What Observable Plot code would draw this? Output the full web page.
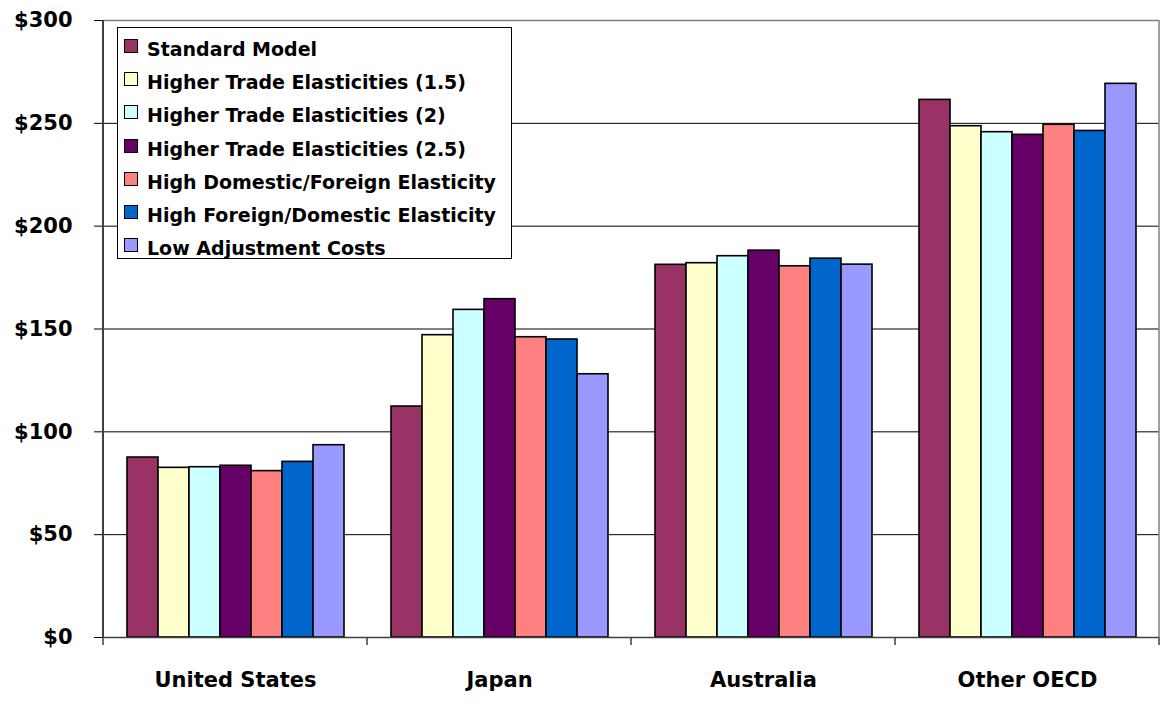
<!DOCTYPE html>
<html>
<head>
<meta charset="utf-8">
<script src="https://cdn.jsdelivr.net/npm/d3@7"></script>
<script src="https://cdn.jsdelivr.net/npm/@observablehq/plot@0.6"></script>
<style>
  html, body { margin: 0; padding: 0; background: #fff; }
  #wrap { position: relative; width: 1167px; height: 709px; }
  #wrap svg text { font-family: "DejaVu Sans", sans-serif; font-weight: bold; font-size: 21px; fill: #000; }
  #legend {
    position: absolute; left: 117px; top: 27px; width: 393px; height: 230px;
    border: 1px solid #000; background: #fff;
    font-family: "DejaVu Sans", sans-serif; font-weight: bold; font-size: 19px; color: #000;
  }
  .lg-sw { position: absolute; left: 6px; width: 12px; height: 12px; border: 1px solid #000; }
  .lg-tx { position: absolute; left: 29px; white-space: nowrap; line-height: 19px; }
</style>
</head>
<body>
<div id="wrap"></div>
<script>
const countries = ["United States", "Japan", "Australia", "Other OECD"];
const series = [
  "Standard Model",
  "Higher Trade Elasticities (1.5)",
  "Higher Trade Elasticities (2)",
  "Higher Trade Elasticities (2.5)",
  "High Domestic/Foreign Elasticity",
  "High Foreign/Domestic Elasticity",
  "Low Adjustment Costs"
];
const colors = ["#993366", "#FFFFCC", "#CCFFFF", "#660066", "#FF8080", "#0066CC", "#9999FF"];
const usValues        = [87.5, 82.5, 82.8, 83.5, 80.9, 85.4, 93.5];
const japanValues     = [112.3, 147.0, 159.3, 164.5, 146.0, 144.9, 128.0];
const australiaValues = [181.2, 182.0, 185.4, 188.1, 180.5, 184.2, 181.3];
const oecdValues      = [261.4, 248.6, 245.7, 244.4, 249.3, 246.3, 269.2];
const yTicks = [0, 50, 100, 150, 200, 250, 300];

const valuesByCountry = [usValues, japanValues, australiaValues, oecdValues];
const data = [];
countries.forEach((c, i) => series.forEach((s, j) => data.push({country: c, series: s, value: valuesByCountry[i][j]})));

const chart = Plot.plot({
  width: 1167,
  height: 709,
  marginLeft: 102,
  marginRight: 7,
  marginTop: 20,
  marginBottom: 72,
  style: {background: "white", overflow: "visible"},
  fx: {domain: countries, padding: 0, label: null, tickSize: 0, tickPadding: 35},
  x: {domain: series, paddingInner: 0, paddingOuter: 0.75, axis: null},
  y: {domain: [0, 300], ticks: yTicks, tickFormat: d => "$" + d, tickSize: 9, tickPadding: 22, label: null},
  color: {domain: series, range: colors},
  marks: [
    Plot.gridY(yTicks.filter(d => d > 0 && d < 300), {stroke: "black", strokeOpacity: 1, strokeWidth: 1}),
    Plot.gridY([300], {stroke: "#808080", strokeOpacity: 1, strokeWidth: 1.5}),
    Plot.barY(data, {fx: "country", x: "series", y: "value", fill: "series", stroke: "black", strokeWidth: 1.6}),
    Plot.ruleY([0], {stroke: "#404040", strokeWidth: 1.5})
  ]
});

document.getElementById("wrap").appendChild(chart);

// axis line, right frame and category boundary ticks from the plot's scales
const svg = d3.select(chart);
const yS = chart.scale("y");
const fxS = chart.scale("fx");
let bounds;
if (fxS && fxS.apply) {
  bounds = countries.map(c => fxS.apply(c));
  bounds.push(fxS.apply(countries[countries.length - 1]) + fxS.bandwidth);
} else {
  const step = (1167 - 102 - 7) / countries.length;
  bounds = d3.range(countries.length + 1).map(i => 102 + i * step);
}
const y0 = yS.apply(0), yTop = yS.apply(300);
const g = svg.append("g");
g.append("line").attr("x1", bounds[bounds.length - 1]).attr("x2", bounds[bounds.length - 1])
  .attr("y1", yTop).attr("y2", y0).attr("stroke", "#808080").attr("stroke-width", 1.5);
g.append("line").attr("x1", bounds[0]).attr("x2", bounds[0])
  .attr("y1", yTop).attr("y2", y0).attr("stroke", "#404040").attr("stroke-width", 2);
g.selectAll("line.bt").data(bounds).join("line").attr("class", "bt")
  .attr("x1", d => d).attr("x2", d => d).attr("y1", y0).attr("y2", y0 + 8)
  .attr("stroke", "#404040").attr("stroke-width", 1.5);

// legend overlay
const legend = d3.select("#wrap").append("div").attr("id", "legend");
series.forEach((s, i) => {
  const top = 11 + i * 33.2;
  legend.append("div").attr("class", "lg-sw").style("top", top + "px").style("background", colors[i]);
  legend.append("div").attr("class", "lg-tx").style("top", (top + 1) + "px").text(s);
});
</script>
</body>
</html>
